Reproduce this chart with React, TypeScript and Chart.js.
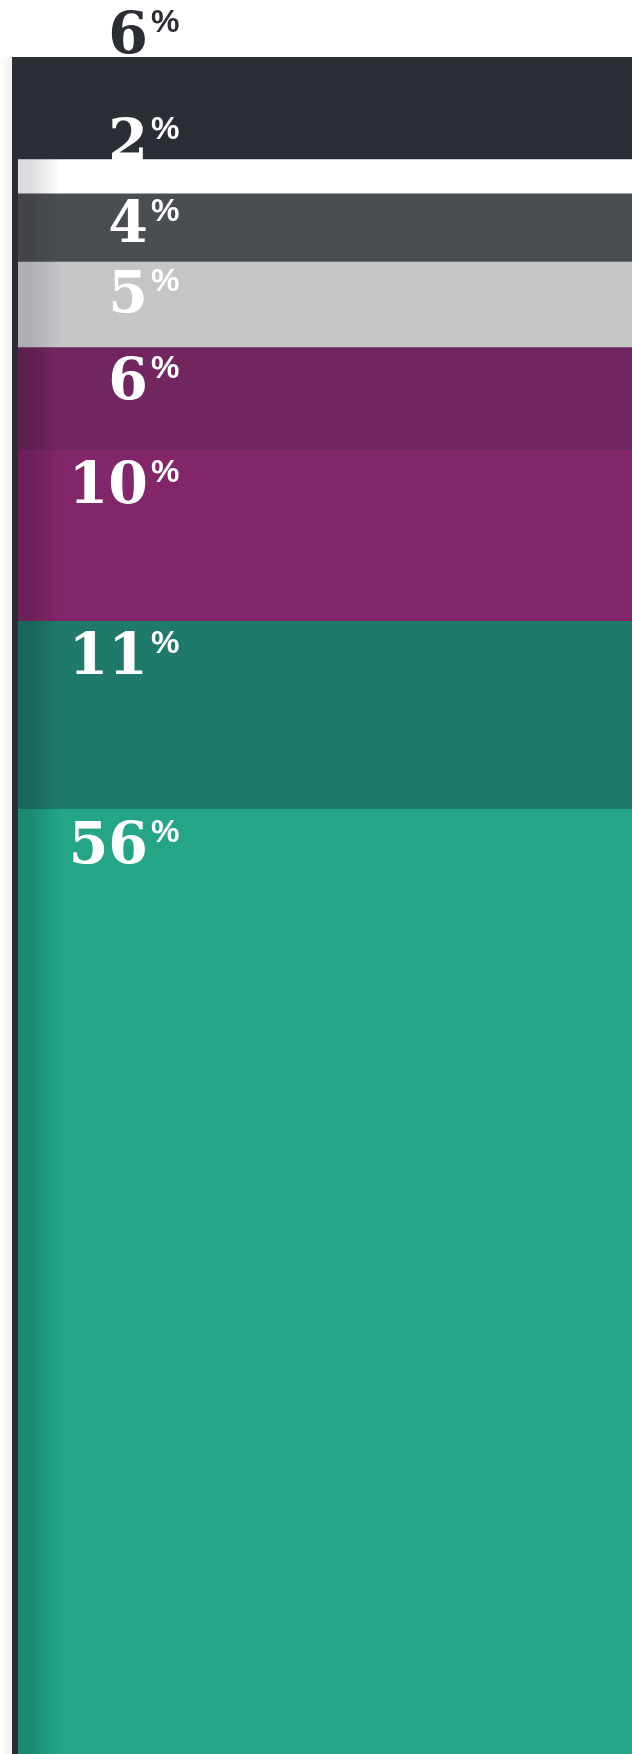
import React, { useEffect, useRef } from "react";
import { Chart, registerables } from "chart.js";

Chart.register(...registerables);

// Segments, bottom to top
const segmentNames = ["Segment A", "Segment B", "Segment C", "Segment D", "Segment E", "Segment F", "Segment G", "Segment H"];
const segmentValues = [56, 11, 10, 6, 5, 4, 2, 6];
const segmentLabels = ["56", "11", "10", "6", "5", "4", "2", "6"];

// Styles
const baseColors = ["#23a586", "#1f7a6b", "#822669", "#722660", "#c4c5c7", "#4a4d52", "#ffffff", "#2b2e35"];
const shadeColors = ["#1b8a70", "#19665a", "#6c2058", "#5f1f50", "#aeafb4", "#424449", "#dcdcde", "#2b2e35"];
const labelColors = ["#ffffff", "#ffffff", "#ffffff", "#ffffff", "#ffffff", "#ffffff", "#ffffff", "#2b2e35"];
const labelBaselineShift = [54, 53, 53, 51, 50, 48, 0, -4];

const W = 632;
const H = 1754;
const CANVAS_H = 1767; // bar runs slightly past the bottom of the page

export default function App() {
  const ref = useRef<HTMLCanvasElement | null>(null);

  useEffect(() => {
    document.body.style.margin = "0";
    const canvas = ref.current;
    if (!canvas) return;

    const backdrop = {
      id: "backdrop",
      beforeDatasetsDraw(chart: any) {
        const { ctx, chartArea } = chart;
        const yTop = chart.scales.y.getPixelForValue(100);
        ctx.save();
        const sg = ctx.createLinearGradient(chartArea.left - 20, 0, chartArea.left - 6, 0);
        sg.addColorStop(0, "rgba(0,0,0,0)");
        sg.addColorStop(1, "rgba(0,0,0,0.05)");
        ctx.fillStyle = sg;
        ctx.fillRect(chartArea.left - 20, yTop, 14, chartArea.bottom - yTop);
        ctx.fillStyle = "#2b2e35";
        ctx.fillRect(chartArea.left - 6, yTop, chartArea.right - chartArea.left + 6, chartArea.bottom - yTop);
        ctx.restore();
      },
    };

    const labelsPlugin = {
      id: "segLabels",
      afterDatasetsDraw(chart: any) {
        const { ctx } = chart;
        ctx.save();
        chart.data.datasets.forEach((ds: any, i: number) => {
          const meta = chart.getDatasetMeta(i);
          const el = meta.data[0];
          if (!el) return;
          const top = el.y;
          const baseline = top + labelBaselineShift[i];
          const rightX = 148;
          ctx.fillStyle = labelColors[i];
          ctx.font = "bold 57px 'DejaVu Serif'";
          ctx.textAlign = "right";
          ctx.textBaseline = "alphabetic";
          ctx.fillText(segmentLabels[i], rightX, baseline);
          ctx.font = "bold 32px 'Liberation Sans'";
          ctx.textAlign = "left";
          ctx.fillText("%", rightX + 3, baseline - 21);
        });
        ctx.restore();
      },
    };

    const chart = new Chart(canvas, {
      type: "bar",
      data: {
        labels: [""],
        datasets: segmentValues.map((v, i) => ({
          label: segmentNames[i],
          data: [v],
          borderWidth: 0,
          barPercentage: 1,
          categoryPercentage: 1,
          backgroundColor: (c: any) => {
            const area = c.chart.chartArea;
            if (!area) return baseColors[i];
            const g = c.chart.ctx.createLinearGradient(area.left, 0, area.left + 42, 0);
            g.addColorStop(0, shadeColors[i]);
            g.addColorStop(0.3, shadeColors[i]);
            g.addColorStop(1, baseColors[i]);
            return g;
          },
        })),
      },
      options: {
        animation: false,
        responsive: false,
        devicePixelRatio: 1,
        layout: { padding: { top: 57, left: 18, right: 0, bottom: 0 } },
        plugins: { legend: { display: false }, tooltip: { enabled: false } },
        scales: {
          x: { stacked: true, display: false },
          y: { stacked: true, display: false, min: 0, max: 100 },
        },
      },
      plugins: [backdrop, labelsPlugin],
    });
    return () => chart.destroy();
  }, []);

  return (
    <div style={{ width: W, height: H, overflow: "hidden", background: "#ffffff" }}>
      <canvas ref={ref} width={W} height={CANVAS_H} style={{ display: "block" }} />
    </div>
  );
}
